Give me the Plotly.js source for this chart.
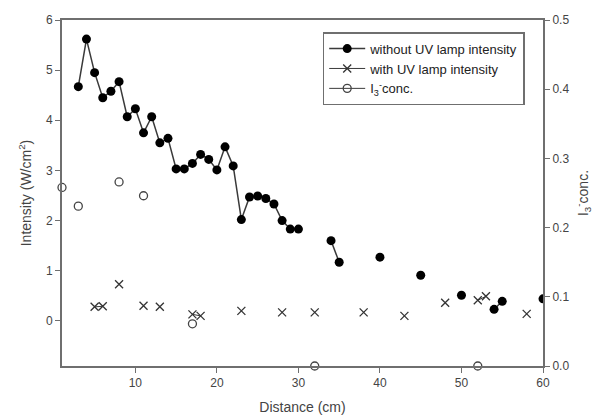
<!DOCTYPE html>
<html><head><meta charset="utf-8">
<script src="https://cdn.plot.ly/plotly-3.0.1.min.js"></script>
<style>html,body{margin:0;padding:0;background:#fff}#chart{width:611px;height:420px}</style>
</head><body><div id="chart"></div>
<script>
// Without UV lamp intensity (left axis, W/cm^2)
const distWithout = [3,4,5,6,7,8,9,10,11,12,13,14,15,16,17,18,19,20,21,22,23,24,25,26,27,28,29,30,34,35,40,45,50,54,55,60];
const intensityWithout = [4.67,5.62,4.95,4.45,4.58,4.77,4.07,4.23,3.75,4.07,3.55,3.64,3.03,3.03,3.14,3.32,3.22,3.01,3.47,3.09,2.02,2.47,2.49,2.44,2.33,2.0,1.83,1.83,1.60,1.17,1.27,0.91,0.51,0.23,0.39,0.44];
// With UV lamp intensity (left axis)
const distWith = [5,6,8,11,13,17,18,23,28,32,38,43,48,52,53,58];
const intensityWith = [0.28,0.29,0.73,0.30,0.28,0.13,0.10,0.20,0.17,0.17,0.17,0.10,0.36,0.41,0.49,0.14];
// I3- concentration (right axis)
const distConc = [1,3,8,11,17,32,52];
const concI3 = [0.258,0.231,0.266,0.246,0.061,0.0,0.0];

function withGaps(x, y) {
  const xs = [], ys = [];
  for (let i = 0; i < x.length; i++) {
    if (i > 0 && x[i] - x[i-1] > 1) { xs.push((x[i] + x[i-1]) / 2); ys.push(null); }
    xs.push(x[i]); ys.push(y[i]);
  }
  return {x: xs, y: ys};
}

const a = withGaps(distWithout, intensityWithout);
const b = withGaps(distWith, intensityWith);
const c = withGaps(distConc, concI3);

const lineCol = '#3a3a3a';
const axisCol = '#6f6f6f';
const textCol = '#444';

const traces = [
  {x: a.x, y: a.y, mode: 'lines+markers', name: 'without UV lamp intensity', connectgaps: false,
   line: {color: lineCol, width: 1.5}, marker: {symbol: 'circle', size: 9, color: '#000'}},
  {x: b.x, y: b.y, mode: 'lines+markers', name: 'with UV lamp intensity', connectgaps: false,
   line: {color: lineCol, width: 1}, marker: {symbol: 'x-thin-open', size: 8, color: '#333', line: {width: 1.3, color: '#333'}}},
  {x: c.x, y: c.y, mode: 'lines+markers', name: 'I<sub>3</sub><sup>-</sup>conc.', yaxis: 'y2', connectgaps: false, cliponaxis: false,
   line: {color: lineCol, width: 1}, marker: {symbol: 'circle-open', size: 8, color: '#444', line: {width: 1.3}}}
];

const layout = {
  width: 611, height: 420,
  margin: {l: 62, r: 68, t: 20, b: 54},
  paper_bgcolor: '#fff', plot_bgcolor: '#fff',
  font: {family: 'Liberation Sans, Arial, sans-serif', size: 12, color: textCol},
  showlegend: true,
  legend: {x: 0.542, y: 0.965, xanchor: 'left', yanchor: 'top', bgcolor: '#fff', itemwidth: 36,
           bordercolor: axisCol, borderwidth: 1.5, font: {size: 13, color: '#222'}, tracegroupgap: 0},
  xaxis: {range: [1, 60], tickvals: [10,20,30,40,50,60], ticks: 'outside', ticklen: 5, tickcolor: axisCol,
          showline: true, linecolor: axisCol, linewidth: 2, mirror: true, showgrid: false, zeroline: false,
          title: {text: 'Distance (cm)', font: {size: 14, color: textCol}, standoff: 13}},
  yaxis: {range: [-0.9, 6], tickvals: [0,1,2,3,4,5,6], ticks: 'outside', ticklen: 5, tickcolor: axisCol,
          showline: true, linecolor: axisCol, linewidth: 2, showgrid: false, zeroline: false,
          title: {text: 'Intensity (W/cm<sup>2</sup>)', font: {size: 14, color: textCol}, standoff: 11}},
  yaxis2: {range: [0, 0.5], overlaying: 'y', side: 'right', tickvals: [0,0.1,0.2,0.3,0.4,0.5], tickformat: '.1f',
           ticks: 'outside', ticklen: 5, tickcolor: axisCol, showline: true, linecolor: axisCol, linewidth: 2,
           showgrid: false, zeroline: false,
           title: {text: 'I<sub>3</sub><sup>-</sup>conc.', font: {size: 14, color: textCol}, standoff: 10}}
};

Plotly.newPlot('chart', traces, layout, {displayModeBar: false, staticPlot: true});
</script></body></html>
